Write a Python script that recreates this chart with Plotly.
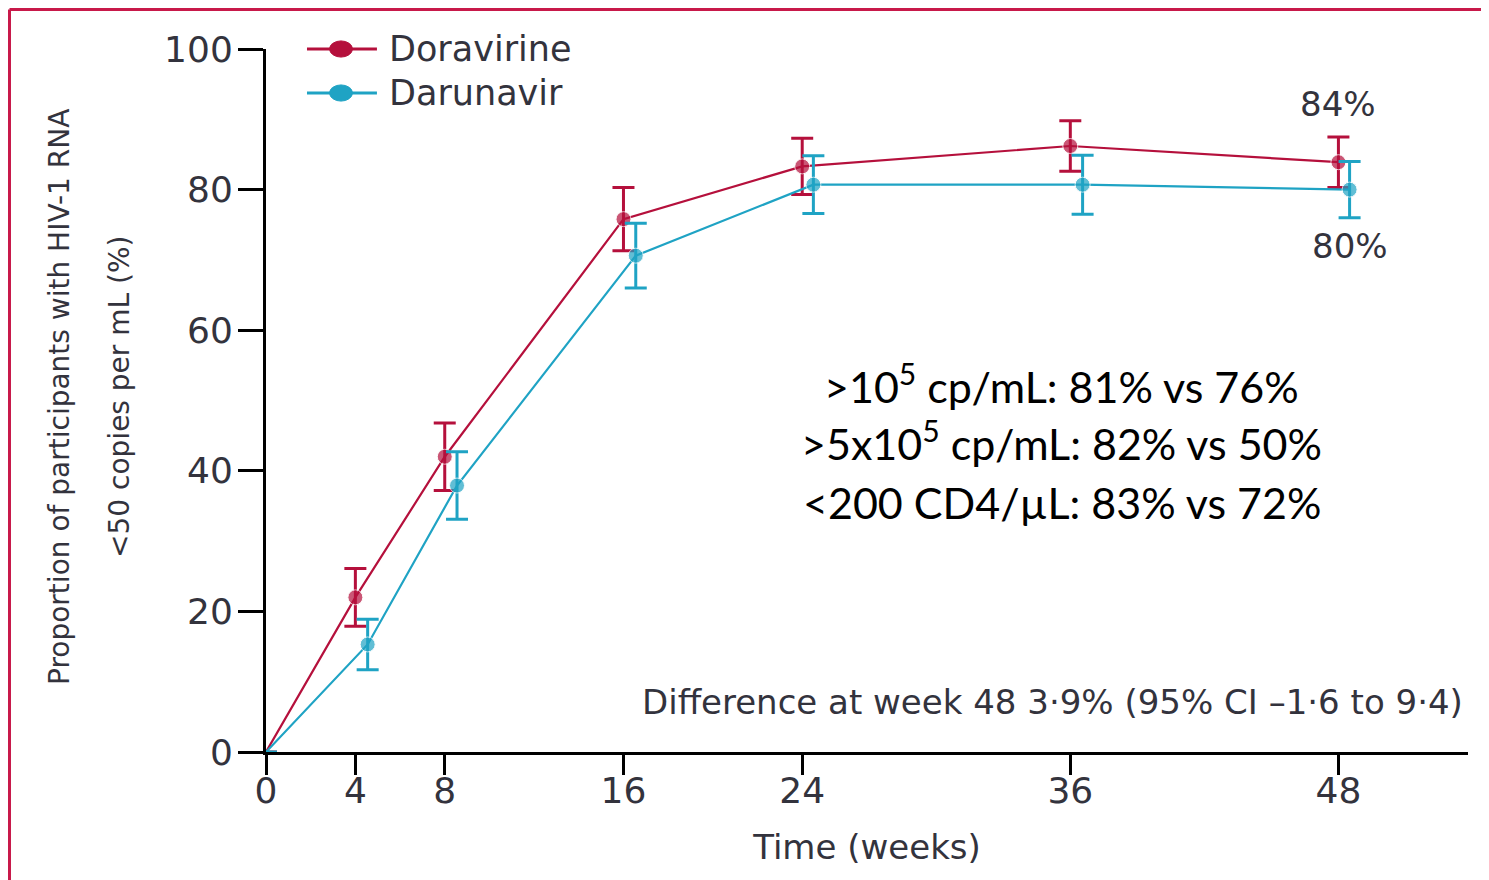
import plotly.graph_objects as go

# ---- data ----
weeks_dor = [0, 4, 8, 16, 24, 36, 48]
dor_pct = [0, 22.0, 42.0, 75.8, 83.3, 86.2, 83.9]
dor_err = [0, 4.1, 4.8, 4.5, 4.0, 3.6, 3.6]

weeks_dar = [0, 4.55, 8.55, 16.55, 24.5, 36.55, 48.5]
dar_pct = [0, 15.3, 37.9, 70.6, 80.7, 80.7, 80.0]
dar_err = [0, 3.6, 4.8, 4.6, 4.1, 4.2, 4.0]

x_ticks = [0, 4, 8, 16, 24, 36, 48]
y_ticks = [0, 20, 40, 60, 80, 100]

series_names = ["Doravirine", "Darunavir"]
end_labels = ["84%", "80%"]
subgroup_lines = [
    "&gt;10<sup>5</sup> cp/mL: 81% vs 76%",
    "&gt;5x10<sup>5</sup> cp/mL: 82% vs 50%",
    "&lt;200 CD4/µL: 83% vs 72%",
]
diff_text = "Difference at week 48 3·9% (95% CI –1·6 to 9·4)"
y_title_lines = ["Proportion of participants with HIV-1 RNA", "&lt;50 copies per mL (%)"]
x_title = "Time (weeks)"

RED = "#b5103c"
BLUE = "#1fa3c4"
TXT = "#33333d"
FRAME = "#c8194a"
FONT = "DejaVu Sans, sans-serif"
COLORS = [RED, BLUE]

fig = go.Figure()
for name, xs, ys, es, col in [
    (series_names[0], weeks_dor, dor_pct, dor_err, RED),
    (series_names[1], weeks_dar, dar_pct, dar_err, BLUE),
]:
    fig.add_trace(go.Scatter(
        x=xs, y=ys, name=name, mode="lines+markers", showlegend=False,
        line=dict(color=col, width=2.2),
        marker=dict(color=col, size=[0] + [15] * (len(ys) - 1)),
        error_y=dict(type="data", array=es, color=col, thickness=3, width=11),
        cliponaxis=False,
    ))

# manual legend (long line glyphs like the reference)
leg_rows = [1.0, 0.9374]
for name, col, yy in zip(series_names, COLORS, leg_rows):
    fig.add_shape(type="line", xref="paper", yref="paper", x0=0.0341, x1=0.0923,
                  y0=yy, y1=yy, line=dict(color=col, width=3))
    fig.add_shape(type="circle", xref="paper", yref="paper", x0=0.0624 - 0.0095,
                  x1=0.0624 + 0.0095, y0=yy - 0.0115, y1=yy + 0.0115,
                  fillcolor=col, line=dict(color=col, width=1))
    fig.add_annotation(xref="paper", yref="paper", x=0.1005, y=yy, xanchor="left",
                       yanchor="middle", text=name, showarrow=False,
                       font=dict(family=FONT, size=35, color=TXT))

# end-of-study labels
fig.add_annotation(x=weeks_dor[-1], y=dor_pct[-1], text=end_labels[0], showarrow=False,
                   yshift=58, font=dict(family=FONT, size=34, color=TXT))
fig.add_annotation(x=weeks_dar[-1], y=dar_pct[-1], text=end_labels[1], showarrow=False,
                   yshift=-56, font=dict(family=FONT, size=34, color=TXT))

# subgroup text block
for t, yy in zip(subgroup_lines, [0.5235, 0.4437, 0.3556]):
    fig.add_annotation(xref="paper", yref="paper", x=0.6622, y=yy,
                       text=t, showarrow=False, xanchor="center", yanchor="middle",
                       font=dict(family="Lato, sans-serif", size=43, color="black"))

fig.add_annotation(xref="paper", yref="paper", x=0.9975, y=0.0711, xanchor="right",
                   yanchor="middle", text=diff_text, showarrow=False,
                   font=dict(family=FONT, size=34, color=TXT))

# y-axis title (two widely spaced lines)
for xx, t in zip([-0.1714, -0.1215], y_title_lines):
    fig.add_annotation(xref="paper", yref="paper", x=xx, y=0.505, text=t, textangle=-90,
                       showarrow=False, xanchor="center", yanchor="middle",
                       font=dict(family=FONT, size=28, color=TXT))

# red frame (left and top edges visible)
fig.add_shape(type="line", xref="paper", yref="paper", x0=-0.2134, x1=1.3,
              y0=1.0562, y1=1.0562, line=dict(color=FRAME, width=3))
fig.add_shape(type="line", xref="paper", yref="paper", x0=-0.2134, x1=-0.2134,
              y0=-0.3, y1=1.0562, line=dict(color=FRAME, width=3))

fig.update_layout(
    width=1481, height=872,
    margin=dict(l=258, r=21, t=41, b=128),
    plot_bgcolor="white", paper_bgcolor="white",
    showlegend=False,
    xaxis=dict(range=[0, 53.8], tickvals=x_ticks, showline=True, linecolor="black",
               linewidth=3, ticks="outside", ticklen=20, tickwidth=3, tickcolor="black",
               showgrid=False, zeroline=False, ticklabelstandoff=-15,
               tickfont=dict(family=FONT, size=36, color=TXT),
               title=dict(text=x_title, font=dict(family=FONT, size=34, color=TXT),
                          standoff=25)),
    yaxis=dict(range=[0, 100], tickvals=y_ticks, showline=True, linecolor="black",
               linewidth=3, ticks="outside", ticklen=25, tickwidth=3, tickcolor="black",
               showgrid=False, zeroline=False, ticklabelstandoff=-2,
               tickfont=dict(family=FONT, size=36, color=TXT)),
)

fig.write_html("out.html")
